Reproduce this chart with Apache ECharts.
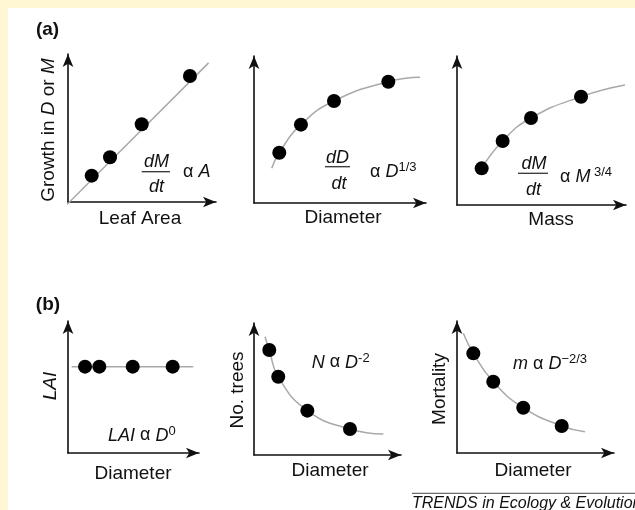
<!DOCTYPE html>
<html>
<head>
<meta charset="utf-8">
<script src="https://cdn.jsdelivr.net/npm/echarts@6/dist/echarts.min.js"></script>
<style>
html,body{margin:0;padding:0;background:#FFF6D4;}
#c{width:635px;height:510px;}
</style>
</head>
<body>
<div id="c"></div>
<script>
// ---- data (normalised 0..10 units on each panel's axes) ----
const leafAreaDots = [[1.60,1.78],[2.84,3.02],[4.98,5.25],[8.24,8.51]];
const leafAreaFit  = [[-0.2,-0.3],[9.5,9.4]];
const diamGrowthDots = [[1.47,3.42],[2.73,5.33],[4.65,6.94],[7.81,8.25]];
const diamGrowthFit  = [[1.03,2.36],[1.47,3.42],[2.73,5.33],[4.65,6.94],[7.81,8.25],[9.65,8.55]];
const massGrowthDots = [[1.46,2.46],[2.70,4.30],[4.38,5.84],[7.34,7.27]];
const massGrowthFit  = [[1.46,2.46],[2.70,4.30],[4.38,5.84],[7.34,7.27],[9.94,8.05]];
const laiDots = [[1.30,6.54],[2.39,6.54],[4.94,6.54],[7.99,6.54]];
const laiFit  = [[0.28,6.54],[9.56,6.54]];
const treesDots = [[1.04,7.95],[1.65,5.93],[3.63,3.36],[6.53,1.97]];
const treesFit  = [[0.75,8.96],[1.04,7.95],[1.65,5.93],[3.63,3.36],[6.53,1.97],[8.80,1.59]];
const mortDots = [[1.04,7.55],[2.31,5.40],[4.22,3.43],[6.67,2.05]];
const mortFit  = [[0.40,9.07],[1.04,7.55],[2.31,5.40],[4.22,3.43],[6.67,2.05],[8.15,1.61]];

const xLabels = ['Leaf Area','Diameter','Mass','Diameter','Diameter','Diameter'];

const panels = [
  {dots: leafAreaDots, fit: leafAreaFit, smooth: false},
  {dots: diamGrowthDots, fit: diamGrowthFit, smooth: true},
  {dots: massGrowthDots, fit: massGrowthFit, smooth: true},
  {dots: laiDots, fit: laiFit, smooth: false},
  {dots: treesDots, fit: treesFit, smooth: true},
  {dots: mortDots, fit: mortFit, smooth: true}
];

const grids = [
  {left:68,  top:54,  width:148, height:148},
  {left:254, top:56,  width:172, height:147},
  {left:457, top:56,  width:169, height:149},
  {left:68,  top:321, width:131, height:132},
  {left:254, top:323, width:147, height:132},
  {left:457, top:321, width:157, height:132}
];

const FF = '"Liberation Sans", Arial, Helvetica, sans-serif';
const INK = '#111111';

function axis(i, pos){
  return {
    type:'value', min:0, max:10, gridIndex:i, position:pos,
    axisLine:{show:true, onZero:false, symbol:['none','arrow'], symbolSize:[8,13],
      lineStyle:{color:INK, width:1.6}},
    axisTick:{show:false}, axisLabel:{show:false}, splitLine:{show:false}
  };
}

const series = [];
panels.forEach((p,i)=>{
  series.push({type:'line', xAxisIndex:i, yAxisIndex:i, data:p.fit, symbol:'none', showSymbol:false,
    smooth:p.smooth ? 0.5 : false, clip:false, silent:true, z:1,
    lineStyle:{color:'#a9a9a9', width:1.5}});
  series.push({type:'scatter', xAxisIndex:i, yAxisIndex:i, data:p.dots, symbolSize:14,
    itemStyle:{color:'#000', opacity:1}, z:3, silent:true});
});

function txt(x,y,text,o){
  o = o || {};
  return {type:'text', x:x, y:y, rotation:o.rot||0, z:10, silent:true,
    style:{text:text, fontFamily:FF, fontSize:o.fs||19, fontStyle:o.it?'italic':'normal',
      fontWeight:o.b?'bold':'normal', fill:INK, align:o.align||'center', verticalAlign:'middle',
      rich:o.rich}};
}
const richMath = {
  i:{fontFamily:FF, fontSize:18, fontStyle:'italic', fill:INK, lineHeight:22, verticalAlign:'middle'},
  n:{fontFamily:FF, fontSize:18, fill:INK, lineHeight:22, verticalAlign:'middle'},
  s:{fontFamily:FF, fontSize:13, fill:INK, lineHeight:11, verticalAlign:'top'}
};
const richLab = {i:{fontFamily:FF, fontSize:19, fontStyle:'italic', fill:INK}};
function fracLine(x1,x2,y){
  return {type:'line', z:10, silent:true, shape:{x1:x1,y1:y,x2:x2,y2:y}, style:{stroke:'#333', lineWidth:1.3}};
}

const graphic = [
  {type:'rect', z:-10, silent:true, shape:{x:8,y:8,width:627,height:502}, style:{fill:'#ffffff'}},
  txt(47.5,30,'(a)',{b:true}),
  txt(48,305,'(b)',{b:true}),
  // y-axis titles
  txt(48.4,130,'Growth in {i|D} or {i|M}',{rot:Math.PI/2, rich:richLab}),
  txt(50.4,386,'LAI',{rot:Math.PI/2, it:true}),
  txt(238,390,'No. trees',{rot:Math.PI/2}),
  txt(440,389,'Mortality',{rot:Math.PI/2}),
  // x-axis titles
  txt(140,218.4,xLabels[0]),
  txt(343,217.7,xLabels[1]),
  txt(551,219.4,xLabels[2]),
  txt(133,473.4,xLabels[3]),
  txt(330,470.7,xLabels[4]),
  txt(533,470.7,xLabels[5]),
  // (a) formulas
  txt(156.5,161.5,'dM',{fs:18,it:true}), fracLine(141.7,170,171.7), txt(156.5,186.5,'dt',{fs:18,it:true}),
  txt(183,172,'{n|α }{i|A}',{fs:18,align:'left',rich:richMath}),
  txt(337.5,157.5,'dD',{fs:18,it:true}), fracLine(325,350,166.7), txt(339,183.5,'dt',{fs:18,it:true}),
  txt(370,172,'{n|α }{i|D}{s|1/3}',{fs:18,align:'left',rich:richMath}),
  txt(534,163.5,'dM',{fs:18,it:true}), fracLine(518,548,173.3), txt(533.5,190,'dt',{fs:18,it:true}),
  txt(560,177,'{n|α }{i|M}{s| 3/4}',{fs:18,align:'left',rich:richMath}),
  // (b) formulas
  txt(108,435.5,'{i|LAI}{n| α }{i|D}{s|0}',{fs:18,align:'left',rich:richMath}),
  txt(311.7,362.5,'{i|N}{n| α }{i|D}{s|-2}',{fs:18,align:'left',rich:richMath}),
  txt(513,364,'{i|m}{n| α }{i|D}{s|−2/3}',{fs:18,align:'left',rich:richMath}),
  // footer
  {type:'line', z:10, silent:true, shape:{x1:412,y1:493.3,x2:635,y2:493.3}, style:{stroke:'#444', lineWidth:1}},
  txt(412,503.5,'TRENDS in Ecology & Evolution',{fs:16,it:true,align:'left'})
];

const chart = echarts.init(document.getElementById('c'), null, {renderer:'canvas'});
chart.setOption({
  animation:false,
  backgroundColor:'#FFF6D4',
  grid: grids.map(g=>Object.assign({outerBoundsMode:'none', containLabel:false}, g)),
  xAxis: grids.map((g,i)=>axis(i,'bottom')),
  yAxis: grids.map((g,i)=>axis(i,'left')),
  series: series,
  graphic: graphic
});
</script>
</body>
</html>
